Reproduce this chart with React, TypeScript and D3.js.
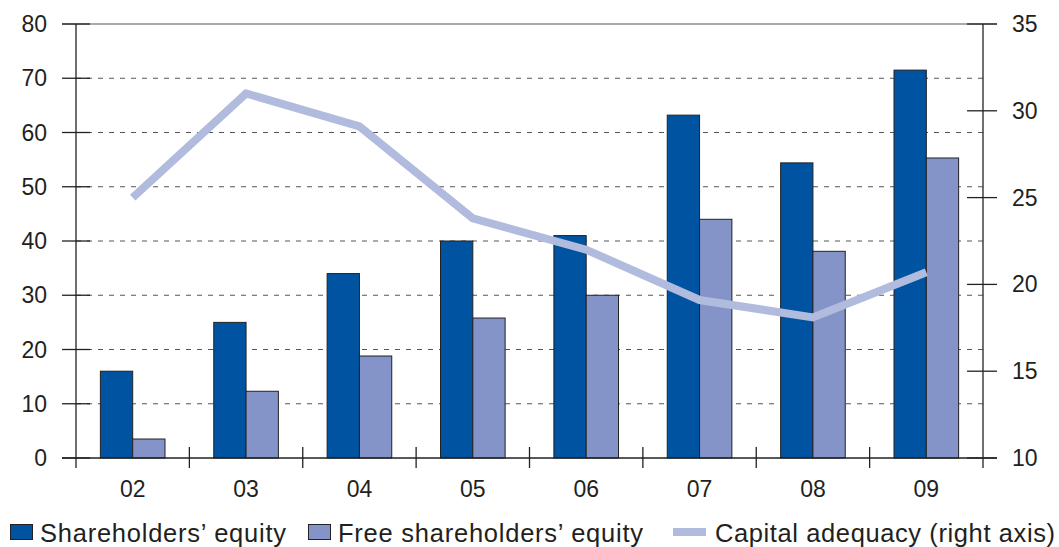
import React from "react";
import * as d3 from "d3";

const categories = ["02", "03", "04", "05", "06", "07", "08", "09"];
const shareholdersEquity = [16, 25, 34, 40, 41, 63.2, 54.4, 71.5];
const freeEquity = [3.5, 12.3, 18.8, 25.8, 30, 44, 38.1, 55.3];
const capitalAdequacy = [25, 31, 29.1, 23.8, 22, 19.1, 18.1, 20.7];
const leftTicks = [0, 10, 20, 30, 40, 50, 60, 70, 80];
const rightTicks = [10, 15, 20, 25, 30, 35];

const W = 1059;
const H = 547;
const left = 76;
const right = 983;
const top = 24;
const bottom = 458;
const FONT = "'Liberation Sans', Arial, Helvetica, sans-serif";
const TEXT = "#231f20";
const DARK = "#0053a1";
const LIGHT = "#8594c8";
const LINE = "#b0bbde";
const TICK_FS = 23;
const LEG_FS = 25.5;
const LEG_Y = 541.5;

export default function App() {
  const x = d3.scaleBand<string>().domain(categories).range([left, right]).padding(0);
  const yL = d3.scaleLinear().domain([0, 80]).range([bottom, top]);
  const yR = d3.scaleLinear().domain([10, 35]).range([bottom, top]);
  const bw = x.bandwidth();
  const pad = bw * 0.215;
  const barW = (bw - 2 * pad) / 2;
  const line = d3
    .line<number>()
    .x((_, i) => (x(categories[i]) as number) + bw / 2)
    .y((d) => yR(d));

  return (
    <svg width={W} height={H} style={{ position: "absolute", left: 0, top: 0 }}>
      <rect x={0} y={0} width={W} height={H} fill="#fff" />
      {leftTicks
        .filter((t) => t > 0 && t < 80)
        .map((t) => (
          <line
            key={"g" + t}
            x1={left}
            x2={right}
            y1={yL(t)}
            y2={yL(t)}
            stroke="#555"
            strokeWidth={1}
            strokeDasharray="5 6"
          />
        ))}
      <line x1={62} x2={997} y1={top} y2={top} stroke="#555" strokeWidth={1.2} />
      {categories.map((c, i) => {
        const x0 = (x(c) as number) + pad;
        return (
          <g key={c}>
            <rect
              x={x0}
              y={yL(shareholdersEquity[i])}
              width={barW}
              height={bottom - yL(shareholdersEquity[i])}
              fill={DARK}
              stroke="#222"
              strokeWidth={1}
            />
            <rect
              x={x0 + barW}
              y={yL(freeEquity[i])}
              width={barW}
              height={bottom - yL(freeEquity[i])}
              fill={LIGHT}
              stroke="#222"
              strokeWidth={1}
            />
          </g>
        );
      })}
      <path
        d={line(capitalAdequacy) || ""}
        fill="none"
        stroke={LINE}
        strokeWidth={8}
        strokeLinejoin="miter"
      />
      <line x1={left} x2={left} y1={top} y2={468} stroke="#222" strokeWidth={1.3} />
      <line x1={right} x2={right} y1={top} y2={468} stroke="#222" strokeWidth={1.3} />
      <line x1={62} x2={997} y1={bottom} y2={bottom} stroke="#222" strokeWidth={1.3} />
      {leftTicks.map((t) => (
        <g key={"l" + t}>
          <line x1={62} x2={90} y1={yL(t)} y2={yL(t)} stroke="#222" strokeWidth={1.3} />
          <text
            x={47}
            y={yL(t)}
            dy="0.35em"
            textAnchor="end"
            fontFamily={FONT}
            fontSize={TICK_FS}
            fill={TEXT}
          >
            {t}
          </text>
        </g>
      ))}
      {rightTicks.map((t) => (
        <g key={"r" + t}>
          <line x1={967} x2={997} y1={yR(t)} y2={yR(t)} stroke="#222" strokeWidth={1.3} />
          <text
            x={1012}
            y={yR(t)}
            dy="0.35em"
            textAnchor="start"
            fontFamily={FONT}
            fontSize={TICK_FS}
            fill={TEXT}
          >
            {t}
          </text>
        </g>
      ))}
      {categories.map((c, i) => (
        <g key={"x" + c}>
          {i > 0 && (
            <line
              x1={x(c) as number}
              x2={x(c) as number}
              y1={447}
              y2={468}
              stroke="#222"
              strokeWidth={1.3}
            />
          )}
          <text
            x={(x(c) as number) + bw / 2}
            y={497}
            textAnchor="middle"
            fontFamily={FONT}
            fontSize={TICK_FS}
            fill={TEXT}
          >
            {c}
          </text>
        </g>
      ))}
      <rect x={10.5} y={524.5} width={22} height={15} fill={DARK} stroke="#222" strokeWidth={1} />
      <text x={40} y={LEG_Y} fontFamily={FONT} fontSize={LEG_FS} fill={TEXT} textLength={246} lengthAdjust="spacing">
        Shareholders’ equity
      </text>
      <rect x={308.5} y={524.5} width={22} height={15} fill={LIGHT} stroke="#222" strokeWidth={1} />
      <text x={338} y={LEG_Y} fontFamily={FONT} fontSize={LEG_FS} fill={TEXT} textLength={305} lengthAdjust="spacing">
        Free shareholders’ equity
      </text>
      <line x1={673} x2={706} y1={532} y2={532} stroke={LINE} strokeWidth={8} />
      <text x={715} y={LEG_Y} fontFamily={FONT} fontSize={LEG_FS} fill={TEXT} textLength={340} lengthAdjust="spacing">
        Capital adequacy (right axis)
      </text>
    </svg>
  );
}
